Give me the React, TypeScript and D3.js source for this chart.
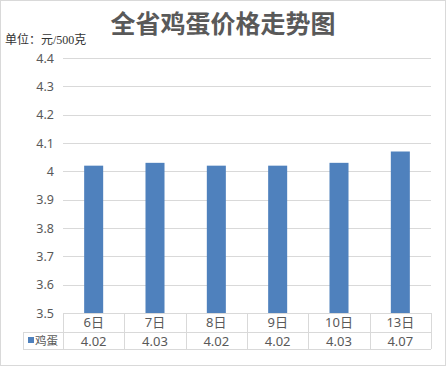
import * as d3 from "d3";

const days = ["6", "7", "8", "9", "10", "13"];
const eggPrices = [4.02, 4.03, 4.02, 4.02, 4.03, 4.07];
const yTicks = [3.5, 3.6, 3.7, 3.8, 3.9, 4, 4.1, 4.2, 4.3, 4.4];
const seriesName = "鸡蛋";
const title = "全省鸡蛋价格走势图";
const unitLabel = "单位：元/500克";

const W = 446;
const H = 366;
const left = 63;
const right = 431;
const top = 58;
const bottom = 313;
const row1 = 332;
const row2 = 349;
const legendLeft = 23;
const grid = "#d9d9d9";
const txt = "#595959";
const sans = "'Noto Sans', 'Noto Sans CJK SC', sans-serif";

export default function App() {
  const y = d3.scaleLinear().domain([3.5, 4.4]).range([bottom, top]);
  const x = d3
    .scaleBand<string>()
    .domain(days)
    .range([left, right])
    .paddingInner(0.69)
    .paddingOuter(0.345);
  const col = d3.scaleBand<string>().domain(days).range([left, right]);

  return (
    <svg
      width={W}
      height={H}
      style={{ position: "absolute", left: 0, top: 0, background: "#fff" }}
    >
      <rect x={0.5} y={0.5} width={W - 1} height={H - 1} fill="none" stroke={grid} />
      <text
        x={223}
        y={33}
        textAnchor="middle"
        fontSize={25}
        fontWeight="bold"
        fill={txt}
        fontFamily="'Noto Sans CJK SC', sans-serif"
      >
        {title}
      </text>
      <text x={5} y={44} fontSize={12} fill="#333" fontFamily="'Liberation Serif', 'Noto Sans CJK SC', serif">
        {unitLabel}
      </text>

      {/* gridlines + y labels */}
      {yTicks.map((t) => (
        <g key={t}>
          <line
            x1={left}
            x2={right}
            y1={Math.round(y(t)) + 0.5}
            y2={Math.round(y(t)) + 0.5}
            stroke={grid}
          />
          <text
            x={54}
            y={y(t) + 4.5}
            textAnchor="end"
            fontSize={12.5}
            fill={txt}
            fontFamily={sans}
          >
            {d3.format("")(t)}
          </text>
        </g>
      ))}

      {/* bars */}
      {eggPrices.map((v, i) => (
        <rect
          key={i}
          x={x(days[i])}
          y={y(v)}
          width={x.bandwidth()}
          height={bottom - y(v)}
          fill="#4f81bd"
        />
      ))}

      {/* data table */}
      <g stroke={grid} fill="none">
        <line x1={left} x2={right} y1={bottom + 0.5} y2={bottom + 0.5} />
        <line x1={legendLeft} x2={right} y1={row1 + 0.5} y2={row1 + 0.5} />
        <line x1={legendLeft} x2={right} y1={row2 + 0.5} y2={row2 + 0.5} />
        <line x1={legendLeft + 0.5} x2={legendLeft + 0.5} y1={row1} y2={row2} />
        {days.map((d) => (
          <line
            key={d}
            x1={Math.round(col(d)!) + 0.5}
            x2={Math.round(col(d)!) + 0.5}
            y1={bottom}
            y2={row2}
          />
        ))}
        <line x1={right + 0.5} x2={right + 0.5} y1={bottom} y2={row2} />
      </g>
      {days.map((d, i) => (
        <g key={d} fontFamily={sans} fontSize={13} fill={txt} textAnchor="middle">
          <text x={col(d)! + col.bandwidth() / 2} y={row1 - 5}>
            {d}日
          </text>
          <text x={col(d)! + col.bandwidth() / 2} y={row2 - 3.5}>
            {eggPrices[i].toFixed(2)}
          </text>
        </g>
      ))}
      <rect x={28} y={337} width={6} height={6} fill="#4f81bd" />
      <text x={35} y={345} fontSize={11.5} fill={txt} fontFamily={sans}>
        {seriesName}
      </text>
    </svg>
  );
}
